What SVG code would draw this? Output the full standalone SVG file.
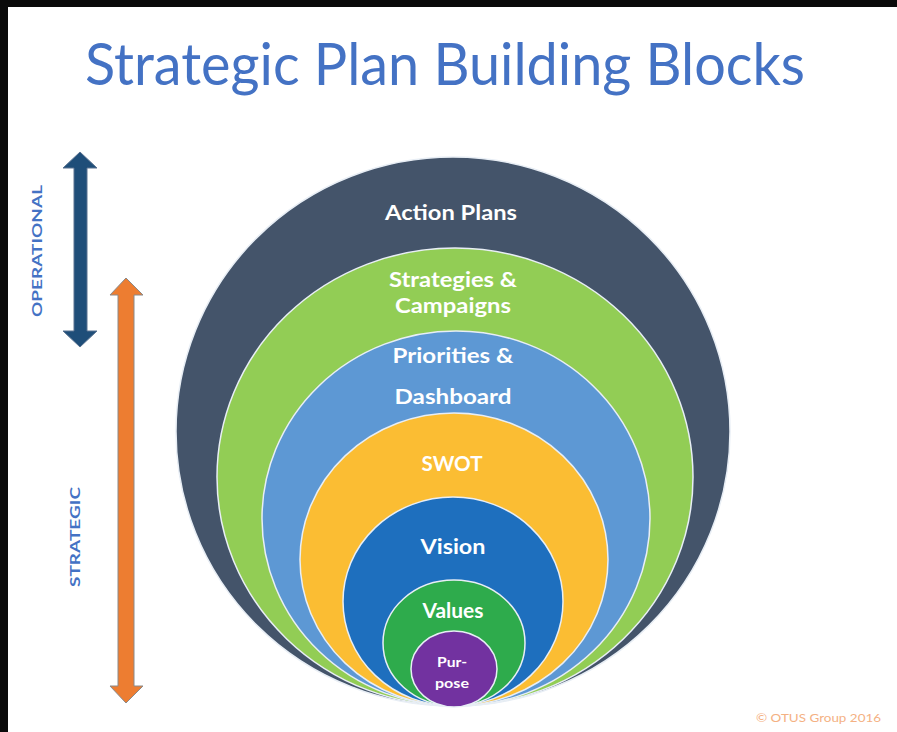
<svg xmlns="http://www.w3.org/2000/svg" width="897" height="732" viewBox="0 0 897 732">
<style>
.ring{stroke:#e8eef5;stroke-width:1.5}
.lbl{font-family:Lato,"Open Sans","Liberation Sans",sans-serif;font-weight:bold;fill:#ffffff;text-anchor:middle}
.side{font-family:Lato,"Open Sans","Liberation Sans",sans-serif;font-weight:bold;fill:#4472c4;text-anchor:middle;font-size:14px}
</style>
<rect x="0" y="0" width="897" height="732" fill="#0a0a0a"/>
<rect x="8" y="7" width="889" height="725" fill="#ffffff"/>
<text x="445" y="85" font-family="Lato,'Open Sans','Liberation Sans',sans-serif" font-size="58" fill="#4472c4" text-anchor="middle" textLength="720" lengthAdjust="spacingAndGlyphs">Strategic Plan Building Blocks</text>
<g id="arrows">
<polygon id="operational-arrow" points="80,152 97,168 87,168 87,331 97,331 80,347 63,331 74,331 74,168 63,168" fill="#1f4e79" stroke="#5a7391" stroke-width="1"/>
<polygon id="strategic-arrow" points="126,278 143,295 134,295 134,686 143,686 126,703 110,686 118,686 118,295 110,295" fill="#ed7d31" stroke="#8a8a8a" stroke-width="1"/>
</g>
<g id="label-operational"><text class="side" transform="translate(42,251) rotate(-90)" textLength="132" lengthAdjust="spacingAndGlyphs">OPERATIONAL</text></g>
<g id="label-strategic"><text class="side" transform="translate(80,537) rotate(-90)" textLength="100" lengthAdjust="spacingAndGlyphs">STRATEGIC</text></g>
<g id="action-plans">
<ellipse class="ring" cx="453" cy="431.5" rx="277" ry="274.5" fill="#44546a"/>
<text class="lbl" x="451" y="220" font-size="20" textLength="132" lengthAdjust="spacingAndGlyphs">Action Plans</text>
</g>
<g id="strategies-campaigns">
<ellipse class="ring" cx="455" cy="477" rx="238" ry="229" fill="#92cd55"/>
<text class="lbl" x="453" y="287" font-size="20" textLength="128" lengthAdjust="spacingAndGlyphs">Strategies &amp;</text>
<text class="lbl" x="453" y="313" font-size="20" textLength="116" lengthAdjust="spacingAndGlyphs">Campaigns</text>
</g>
<g id="priorities-dashboard">
<ellipse class="ring" cx="456" cy="518.5" rx="194" ry="187.5" fill="#5d98d4"/>
<text class="lbl" x="453" y="363" font-size="20" textLength="121" lengthAdjust="spacingAndGlyphs">Priorities &amp;</text>
<text class="lbl" x="453" y="404" font-size="20" textLength="117" lengthAdjust="spacingAndGlyphs">Dashboard</text>
</g>
<g id="swot">
<ellipse class="ring" cx="454" cy="559.5" rx="154" ry="146.5" fill="#fbbd33"/>
<text class="lbl" x="452" y="471" font-size="20" textLength="61" lengthAdjust="spacingAndGlyphs">SWOT</text>
</g>
<g id="vision">
<ellipse class="ring" cx="453" cy="601.5" rx="110" ry="104.5" fill="#1e6fbe"/>
<text class="lbl" x="453" y="554" font-size="20" textLength="65" lengthAdjust="spacingAndGlyphs">Vision</text>
</g>
<g id="values">
<ellipse class="ring" cx="454" cy="643" rx="71" ry="63" fill="#2eab4c"/>
<text class="lbl" x="453" y="618" font-size="20" textLength="61" lengthAdjust="spacingAndGlyphs">Values</text>
</g>
<g id="purpose">
<ellipse class="ring" cx="454" cy="669" rx="43" ry="38" fill="#7232a0"/>
<text class="lbl" x="452" y="667" font-size="13" textLength="30" lengthAdjust="spacingAndGlyphs">Pur-</text>
<text class="lbl" x="452" y="688" font-size="13" textLength="34" lengthAdjust="spacingAndGlyphs">pose</text>
</g>
<text x="881" y="722" font-family="Lato,'Open Sans','Liberation Sans',sans-serif" font-size="11" fill="#f4b183" text-anchor="end" textLength="125" lengthAdjust="spacingAndGlyphs">© OTUS Group 2016</text>
</svg>
